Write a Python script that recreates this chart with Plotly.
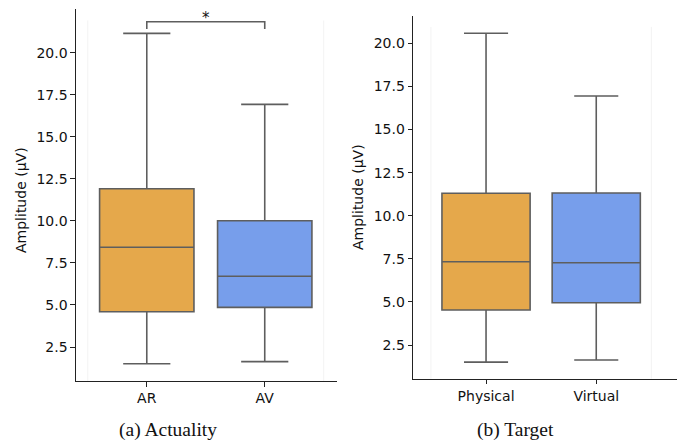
import plotly.graph_objects as go

# ---- data ----
cats_a = ["AR", "AV"]
q1_a = [4.60, 4.86]
med_a = [8.43, 6.71]
q3_a = [11.91, 10.01]
lo_a = [1.51, 1.63]
hi_a = [21.15, 16.93]

cats_b = ["Physical", "Virtual"]
q1_b = [4.53, 4.95]
med_b = [7.33, 7.27]
q3_b = [11.30, 11.32]
lo_b = [1.51, 1.63]
hi_b = [20.58, 16.94]

box_colors = ["#E5A84B", "#779EEB"]
sig_pair = ["AR", "AV"]
sig_y = [21.41, 21.84]
sig_label = "*"

y_title = "Amplitude (µV)"
captions = ["(a) Actuality", "(b) Target"]
yticks = [2.5, 5.0, 7.5, 10.0, 12.5, 15.0, 17.5, 20.0]

W, H = 688, 443
line_col = "#5e5e5e"

fig = go.Figure()

def add_boxes(cats, q1, med, q3, lo, hi, xa, ya):
    for i, c in enumerate(cats):
        fig.add_trace(go.Box(
            x=[c], q1=[q1[i]], median=[med[i]], q3=[q3[i]],
            lowerfence=[lo[i]], upperfence=[hi[i]],
            width=0.8, whiskerwidth=0.5, boxpoints=False,
            fillcolor=box_colors[i], line=dict(color=line_col, width=1.6),
            xaxis=xa, yaxis=ya, showlegend=False, hoverinfo="skip",
        ))

add_boxes(cats_a, q1_a, med_a, q3_a, lo_a, hi_a, "x", "y")
add_boxes(cats_b, q1_b, med_b, q3_b, lo_b, hi_b, "x2", "y2")

def px_x(p): return p / W
def px_y(p): return (H - p) / H

font_tick = dict(family="DejaVu Sans", size=14, color="#111")

axis_common = dict(showgrid=False, zeroline=False, showline=True, linecolor="#222",
                   linewidth=1.3, ticks="outside", ticklen=4.5, tickwidth=1.1,
                   tickcolor="#222", tickfont=font_tick)

fig.update_layout(
    width=W, height=H, margin=dict(l=0, r=0, t=0, b=0),
    paper_bgcolor="white", plot_bgcolor="white", boxmode="overlay",
    xaxis=dict(domain=[px_x(76), px_x(336.7)], anchor="y", type="category",
               categoryorder="array", categoryarray=cats_a,
               range=[-0.6, 1.61], **axis_common),
    yaxis=dict(domain=[px_y(381), px_y(9.3)], anchor="x", range=[0.48, 22.58],
               tickvals=yticks, ticktext=[f"{v:.1f}" for v in yticks], **axis_common),
    xaxis2=dict(domain=[px_x(413.3), px_x(676.7)], anchor="y2", type="category",
                categoryorder="array", categoryarray=cats_b,
                range=[-0.66, 1.73], **axis_common),
    yaxis2=dict(domain=[px_y(378.7), px_y(16)], anchor="x2", range=[0.55, 21.58],
                tickvals=yticks, ticktext=[f"{v:.1f}" for v in yticks], **axis_common),
)

# faint vertical guide lines at category edges
for xr in ["x", "x2"]:
    for xv in [-0.5, 1.5]:
        fig.add_shape(type="line", xref=xr, yref=("y" if xr == "x" else "y2") + " domain",
                      x0=xv, x1=xv, y0=0, y1=0.97, line=dict(color="#f3f3f3", width=1), layer="below")

# significance bracket
fig.add_shape(type="path", xref="x", yref="y",
              path=f"M 0 {sig_y[0]} L 0 {sig_y[1]} L 1 {sig_y[1]} L 1 {sig_y[0]}",
              line=dict(color=line_col, width=1.6))
fig.add_annotation(x=0.5, y=sig_y[1], xref="x", yref="y", text=sig_label, showarrow=False,
                   yanchor="bottom", yshift=-7, font=dict(family="DejaVu Sans", size=15, color="#111"))

# y-axis titles
for xc, yc in [(21, 200), (358, 197)]:
    fig.add_annotation(x=px_x(xc), y=px_y(yc), xref="paper", yref="paper", text=y_title,
                       textangle=-90, showarrow=False, xanchor="center", yanchor="middle",
                       font=dict(family="DejaVu Sans", size=14, color="#111"))

# captions
for xc, txt in zip([168, 515], captions):
    fig.add_annotation(x=px_x(xc), y=px_y(430), xref="paper", yref="paper", text=txt,
                       showarrow=False, xanchor="center", yanchor="middle",
                       font=dict(family="Liberation Serif", size=19.5, color="#111"))

fig.write_html("out.html")
